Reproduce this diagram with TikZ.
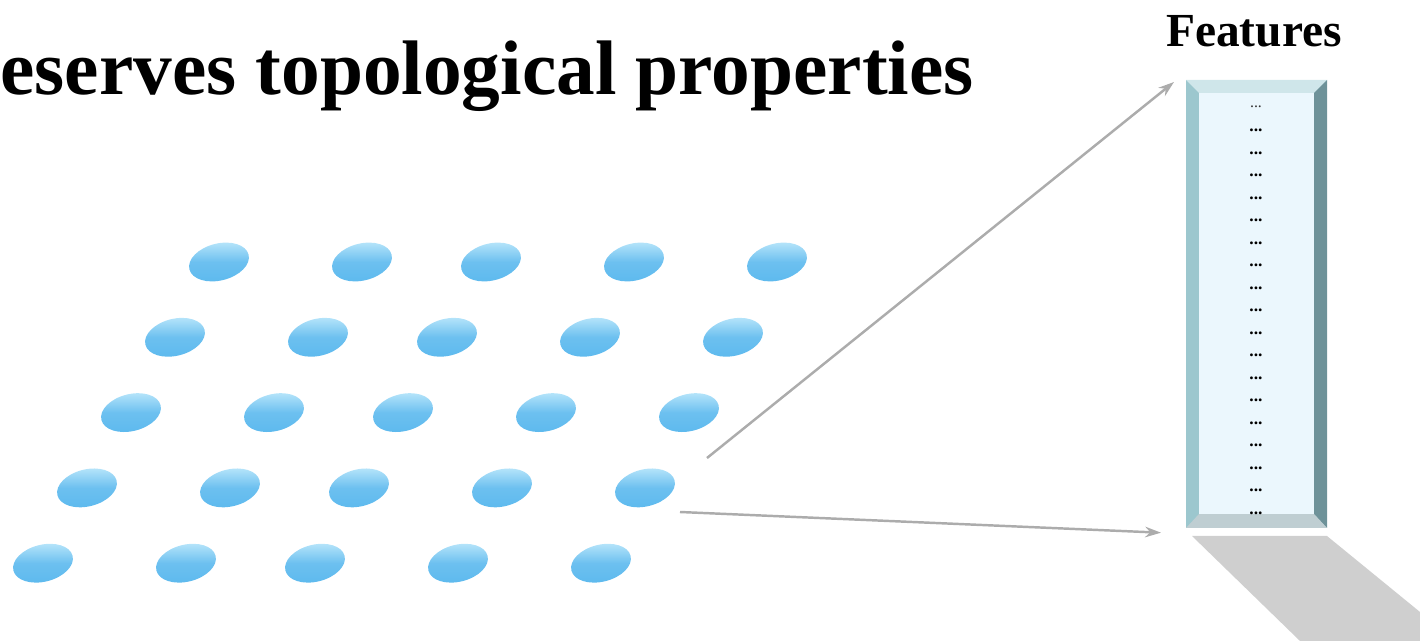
\documentclass[tikz,border=0pt]{standalone}
\usepackage{fontspec}
\setmainfont{Liberation Serif}
\usetikzlibrary{arrows.meta,positioning,calc,shapes.geometric}
\definecolor{dotblue}{HTML}{5CB9EE}
\definecolor{dotlight}{HTML}{BDE8FB}
\definecolor{facefill}{HTML}{EBF7FD}
\definecolor{bevtop}{HTML}{CFE6EA}
\definecolor{bevleft}{HTML}{9CC7CE}
\definecolor{bevright}{HTML}{6E9299}
\definecolor{bevbot}{HTML}{BFCED2}
\tikzset{
  blob/.style={ellipse,minimum width=1.22cm,minimum height=0.74cm,inner sep=0pt,rotate=14,
    top color=dotlight,bottom color=dotblue,middle color=dotblue!90},
  link/.style={draw=gray!65,line width=1.4pt,-{Stealth[length=9pt,width=6pt]}}
}
\begin{document}
\begin{tikzpicture}[x={(0.02cm,0)},y={(0,-0.02cm)}]
\useasboundingbox (0,0) rectangle (1420,641);

% title
\node[anchor=base west,inner sep=0pt,font=\fontsize{44}{50}\selectfont\bfseries] (title) at (0,95) {eserves topological properties};
\node[anchor=base,inner sep=0pt,font=\fontsize{27}{30}\selectfont\bfseries] (ftitle) at (1254,47) {Features};

% shadow of the feature column
\fill[gray!38] (1192,536) -- (1327,536) -- (1420,612) -- (1420,641) -- (1300,641) -- cycle;

% feature column
\node[draw=none,fill=bevleft,minimum width=141*0.02cm,minimum height=448*0.02cm,inner sep=0pt,anchor=north west] (feat) at (1186,80) {};
\fill[bevtop] (1186,80) -- (1327,80) -- (1314,93) -- (1199,93) -- cycle;
\fill[bevright] (1327,80) -- (1327,528) -- (1314,514) -- (1314,93) -- cycle;
\fill[bevbot] (1186,528) -- (1327,528) -- (1314,514) -- (1199,514) -- cycle;
\fill[facefill] (1199,93) rectangle (1314,514);
\node[font=\small,text=black!80] (row0) at (1256,107) {...};
\foreach \i in {1,...,18}
  \node[font=\normalsize\bfseries] (row\i) at (1256,{105+22.5*\i+3}) {...};

% grid of units
\foreach \r in {1,...,5}
  \foreach \c/\dx in {1/0,2/143,3/272,4/415,5/558}
    \node[blob] (u\r\c) at ({219-44*(\r-1)+\dx},{262+75.3*(\r-1)}) {};

% connectors
\coordinate (fromA) at (707,458);
\coordinate (fromB) at (680,512);
\coordinate (toA) at ($(feat.north west)+(-12,2)$);
\coordinate (toB) at ($(feat.south west)+(-25,4)$);
\draw[link] (fromA) -- (toA);
\draw[link] (fromB) -- (toB);
\end{tikzpicture}
\end{document}
